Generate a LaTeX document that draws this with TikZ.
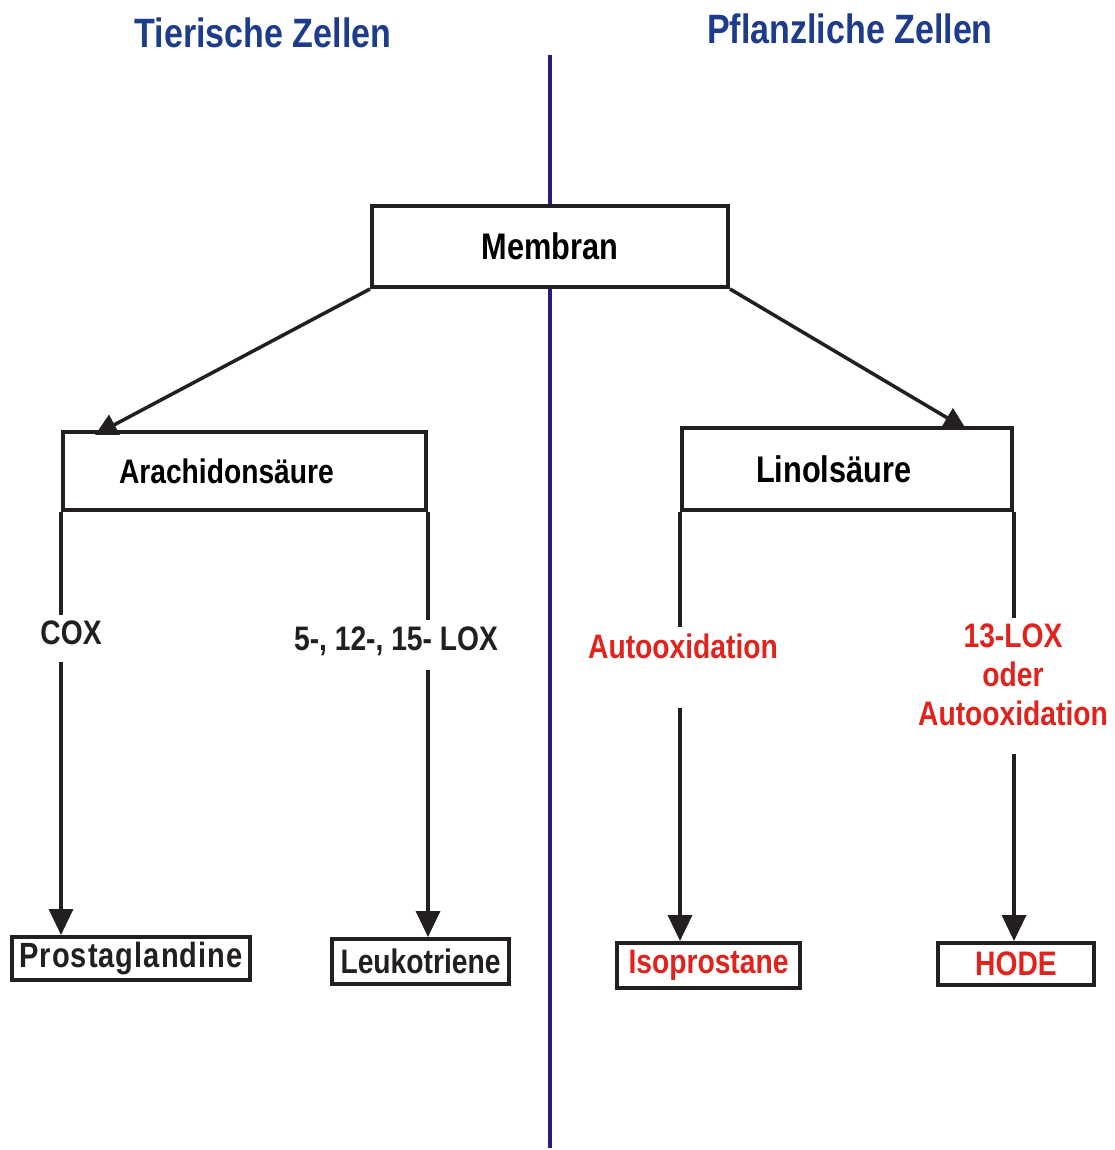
\documentclass[tikz,border=0pt]{standalone}
\usepackage{fontspec}
\setmainfont[FakeStretch=0.83]{Liberation Sans}
\usepackage{xcolor}
\usepackage{tikz}
\usetikzlibrary{arrows.meta,positioning,calc}

\definecolor{inkblack}{RGB}{35,31,32}
\definecolor{titleblue}{RGB}{30,60,140}
\definecolor{pathred}{RGB}{225,35,30}
\definecolor{dividerblue}{RGB}{40,28,120}

\begin{document}
\begin{tikzpicture}[x=1pt,y=-1pt,>={Triangle[width=24pt,length=26pt]},
  box/.style={draw=inkblack,fill=white,line width=4pt,inner sep=0pt,font=\bfseries\fontsize{34}{38}\selectfont},
  lab/.style={inner sep=6pt,font=\bfseries\fontsize{34}{39}\selectfont},
  conn/.style={draw=inkblack,line width=3.5pt}]
  \useasboundingbox (0,0) rectangle (1114,1150);
  % divider and headings
  \coordinate (divtop) at (550,55);
  \coordinate (divbot) at (550,1148);
  \draw[dividerblue,line width=3.5pt] (divtop)--(divbot);
  \node[font=\bfseries\fontsize{41}{44}\selectfont,titleblue] (tier) at (263,33) {Tierische Zellen};
  \node[font=\bfseries\fontsize{41}{44}\selectfont,titleblue] (pflanz) at (850,29) {Pflanzliche Zellen};
  % boxes
  \node[box,minimum width=356pt,minimum height=81pt,font=\bfseries\fontsize{37}{40}\selectfont] (membran) at (550,246.5) {Membran};
  \node[box,minimum height=78pt,text width=251pt,inner xsep=56pt,align=left] (arach) at (244.5,471) {Arachidonsäure};
  \node[box,minimum height=82pt,text width=182pt,inner xsep=74pt,align=left,font=\bfseries\fontsize{37}{40}\selectfont] (linol) at (847,469) {Linolsäure};
  \node[box,minimum width=238pt,minimum height=43pt,text=inkblack,font=\bfseries\fontsize{35}{38}\selectfont\addfontfeature{LetterSpace=3}] (prost) at (131,958.5) {Prostaglandine};
  \node[box,minimum width=177pt,minimum height=45pt,text=inkblack] (leuko) at (420.5,961.5) {Leukotriene};
  \node[box,minimum width=183pt,minimum height=45pt,text=pathred] (iso) at (708.5,965.5) {Isoprostane};
  \node[box,minimum width=156pt,minimum height=42pt,text=pathred] (hode) at (1016,964) {HODE};
  % enzymes
  \node[lab,inkblack] (cox) at (71,633) {COX};
  \node[lab,inkblack] (lox) at (396,641) {5-, 12-, 15- LOX};
  \node[lab,pathred] (auto) at (683,646) {Autooxidation};
  \node[lab,pathred,align=center] (loxauto) at (1013,675) {13-LOX\\oder\\Autooxidation};
  % connectors
  \draw[conn,->,>={Triangle[width=22pt,length=22pt]}] (membran.south west)--([xshift=34pt,yshift=-5pt]arach.north west);
  \draw[conn,->,>={Triangle[width=22pt,length=22pt]}] (membran.south east)--([xshift=-48pt,yshift=-3pt]linol.north east);
  \foreach \src/\lab/\dst/\gap in {arach.south west/cox/prost/11,arach.south east/lox/leuko/8,
      linol.south west/auto/iso/43,linol.south east/loxauto/hode/22}{
    \draw[conn] (\src)--(\src |- \lab.north);
    \draw[conn,->,shorten <=\gap pt] (\src |- \lab.south)--(\src |- \dst.north);
  }
\end{tikzpicture}
\end{document}
